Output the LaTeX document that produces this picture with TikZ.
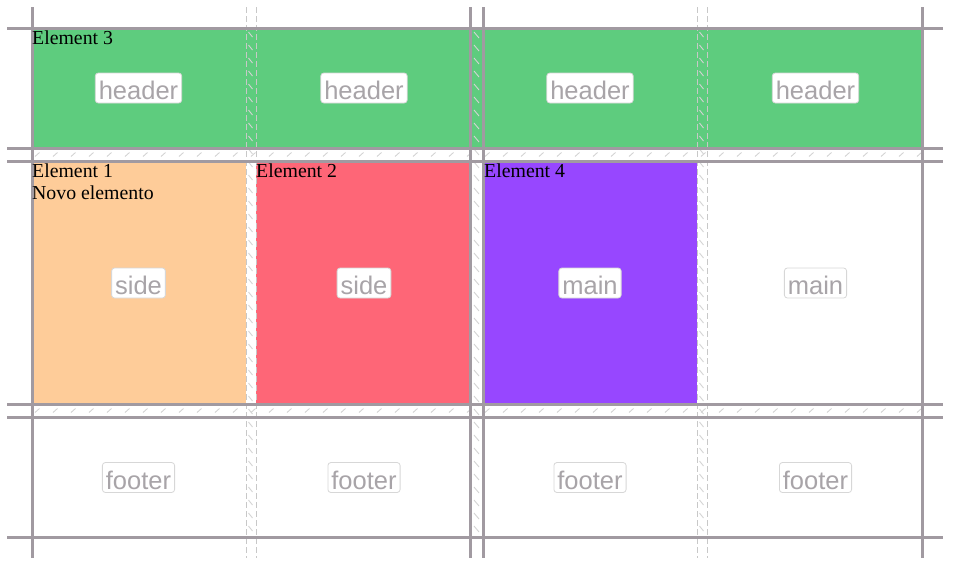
\documentclass[tikz,border=0pt]{standalone}
\usepackage{fontspec}
\setmainfont{Liberation Serif}
\newfontfamily\badgefont{Liberation Sans}
\definecolor{gridline}{RGB}{161,154,161}
\definecolor{dashline}{RGB}{200,200,200}
\definecolor{hatchc}{RGB}{212,212,212}
\definecolor{greenfill}{RGB}{94,204,126}
\definecolor{peachfill}{RGB}{254,204,153}
\definecolor{redfill}{RGB}{254,102,119}
\definecolor{purplefill}{RGB}{151,71,255}
\definecolor{badgetext}{RGB}{168,164,168}
\definecolor{badgeborder}{RGB}{215,215,215}
\tikzset{
  solidline/.style={draw=gridline, line width=3pt},
  dashline/.style={draw=dashline, line width=1pt, dash pattern=on 6pt off 3pt},
  hatch/.style={draw=hatchc, line width=0.9pt},
  badge/.style={fill=white, draw=badgeborder, line width=0.8pt, rounded corners=3pt,
    text=badgetext, font=\badgefont\fontsize{25.5}{26}\selectfont,
    inner xsep=3.5pt, inner ysep=0pt, minimum height=30pt,
    text height=23.5pt, text depth=0pt},
  elabel/.style={anchor=north west, inner sep=0pt, align=left, text=black,
    font=\fontsize{19.8}{22}\selectfont}
}
\begin{document}
\begin{tikzpicture}[x=1pt,y=-1pt]
\useasboundingbox (0,0) rectangle (953,568);
% fills
\fill[greenfill] (33,29) rectangle (921,147);
\fill[peachfill] (33,162) rectangle (246,403);
\fill[redfill] (256,162) rectangle (469,403);
\fill[purplefill] (484,162) rectangle (697,403);
% hatching in horizontal gaps
\foreach \yy in {148,404}{
  \begin{scope}
    \clip (33,\yy+1.5) rectangle (921,\yy+11.5);
    \foreach \xx in {35,53,...,925}{
      \draw[hatch] (\xx,\yy+8.5) -- (\xx+4.5,\yy+4.5);
    }
  \end{scope}
}
% hatching in vertical gaps
\foreach \xa/\xb in {246/256,697/707}{
  \foreach \yy in {32,45,...,532}{
    \draw[hatch] (\xa+2.5,\yy) -- (\xa+6.5,\yy+5);
  }
}
\foreach \yy in {32,45,...,532}{
  \draw[hatch] (474,\yy) -- (479,\yy+6);
}
% dashed column gap lines
\foreach \xx in {246,256,697,707}{
  \draw[dashline] (\xx,7) -- (\xx,558);
}
% solid grid lines
\foreach \xx in {32,470,483,922}{
  \draw[solidline] (\xx,7) -- (\xx,558);
}
\foreach \yy in {28,148,161,404,417,537}{
  \draw[solidline] (7,\yy) -- (943,\yy);
}
% element labels
\node[elabel] (e3) at (32,31) {Element 3};
\node[elabel] (e1) at (32,164) {Element 1\\Novo elemento};
\node[elabel] (e2) at (256,164) {Element 2};
\node[elabel] (e4) at (484,164) {Element 4};
% area badges
\node[badge] (h1) at (138.5,88) {header};
\node[badge] (h2) at (364,88) {header};
\node[badge] (h3) at (590,88) {header};
\node[badge] (h4) at (815.5,88) {header};
\node[badge] (s1) at (138.5,283) {side};
\node[badge] (s2) at (364,283) {side};
\node[badge] (m1) at (590,283) {main};
\node[badge] (m2) at (815.5,283) {main};
\node[badge] (f1) at (138.5,477.5) {footer};
\node[badge] (f2) at (364,477.5) {footer};
\node[badge] (f3) at (590,477.5) {footer};
\node[badge] (f4) at (815.5,477.5) {footer};
\end{tikzpicture}
\end{document}
